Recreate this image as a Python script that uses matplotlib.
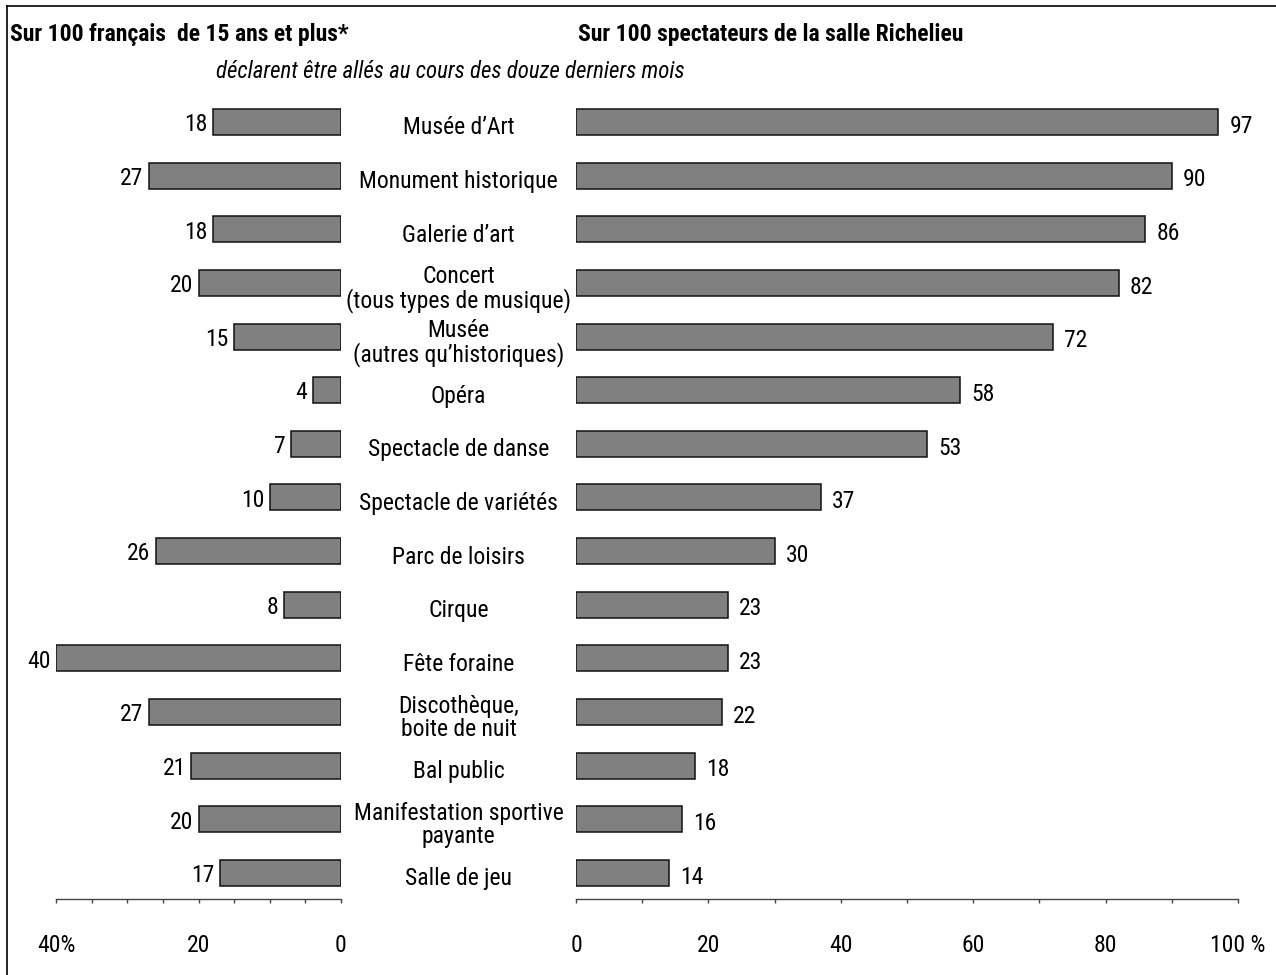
import matplotlib
matplotlib.use("Agg")
import matplotlib.pyplot as plt
from matplotlib import font_manager
from matplotlib.lines import Line2D

categories = [
    "Musée d\u2019Art",
    "Monument historique",
    "Galerie d\u2019art",
    "Concert\n(tous types de musique)",
    "Musée\n(autres qu\u2019historiques)",
    "Opéra",
    "Spectacle de danse",
    "Spectacle de variétés",
    "Parc de loisirs",
    "Cirque",
    "Fête foraine",
    "Discothèque,\nboite de nuit",
    "Bal public",
    "Manifestation sportive\npayante",
    "Salle de jeu",
]
francais = [18, 27, 18, 20, 15, 4, 7, 10, 26, 8, 40, 27, 21, 20, 17]
richelieu = [97, 90, 86, 82, 72, 58, 53, 37, 30, 23, 23, 22, 18, 16, 14]

left_ticks = [0, 20, 40]
left_ticklabels = ["0", "20", "40%"]
right_ticks = [0, 20, 40, 60, 80, 100]
right_ticklabels = ["0", "20", "40", "60", "80", "100 %"]

# pick a narrow sans face if one is installed
names = {f.name for f in font_manager.fontManager.ttflist}
family = "DejaVu Sans"
for cand in ["Liberation Sans Narrow", "Roboto Condensed", "Open Sans Condensed", "Roboto", "Liberation Sans"]:
    if cand in names:
        family = cand
        break
plt.rcParams["font.family"] = [family, "DejaVu Sans"]

FS = 17

W, H = 1276, 975
fig = plt.figure(figsize=(W / 100, H / 100), dpi=100)

y_top, y_bot = 95, 899
bottom = 1 - y_bot / H
height = (y_bot - y_top) / H
n = len(categories)
ylim = (n - 1 + 0.485, -0.503)
bar_h = 0.485

axL = fig.add_axes([56 / W, bottom, 285 / W, height])
axR = fig.add_axes([576 / W, bottom, 662 / W, height])

pos = list(range(n))
axL.barh(pos, francais, height=bar_h, color="#808080", edgecolor="#111111", linewidth=1.1)
axR.barh(pos, richelieu, height=bar_h, color="#808080", edgecolor="#111111", linewidth=1.1)

axL.set_xlim(40, 0)
axR.set_xlim(0, 100)
for ax in (axL, axR):
    ax.set_ylim(*ylim)
    ax.set_yticks([])
    for s in ("top", "left", "right"):
        ax.spines[s].set_visible(False)
    ax.spines["bottom"].set_color("#444444")
    ax.spines["bottom"].set_linewidth(1.0)
    ax.tick_params(axis="x", direction="out", length=3, width=1, color="#444444",
                   pad=22, labelsize=FS)
    ax.set_facecolor("none")

axL.set_xticks(range(0, 41, 5), minor=True)
axL.set_xticks(left_ticks)
axL.set_xticklabels(left_ticklabels)
axL.tick_params(axis="x", which="minor", length=3, width=1, color="#444444")

axR.set_xticks(range(0, 101, 10), minor=True)
axR.set_xticks(right_ticks)
axR.set_xticklabels(right_ticklabels)
axR.tick_params(axis="x", which="minor", length=3, width=1, color="#444444")

for i, v in enumerate(francais):
    axL.annotate(str(v), (v, i), xytext=(-4, -2), textcoords="offset points",
                 ha="right", va="center", fontsize=FS)
for i, v in enumerate(richelieu):
    axR.annotate(str(v), (v, i), xytext=(8, -3), textcoords="offset points",
                 ha="left", va="center", fontsize=FS)

# category names in the gutter between the two panels
for i, c in enumerate(categories):
    y = 1 - (y_top + (i - ylim[1]) / (ylim[0] - ylim[1]) * (y_bot - y_top)) / H
    fig.text(458.5 / W, y - 6 / H, c, ha="center", va="center", fontsize=FS,
             linespacing=1.0)

fig.text(10 / W, 1 - 35 / H, "Sur 100 français  de 15 ans et plus*", ha="left", va="center",
         fontsize=17, fontweight="bold")
fig.text(578 / W, 1 - 35 / H, "Sur 100 spectateurs de la salle Richelieu", ha="left",
         va="center", fontsize=17, fontweight="bold")
fig.text(216 / W, 1 - 72 / H, "déclarent être allés au cours des douze derniers mois",
         ha="left", va="center", fontsize=16.5, style="italic")

# frame lines along the top and left edges
fig.add_artist(Line2D([7 / W, 1], [1 - 6 / H, 1 - 6 / H], transform=fig.transFigure,
                      color="black", linewidth=1.2))
fig.add_artist(Line2D([7 / W, 7 / W], [0, 1 - 6 / H], transform=fig.transFigure,
                      color="black", linewidth=1.2))

fig.savefig("out.png", dpi=100)
